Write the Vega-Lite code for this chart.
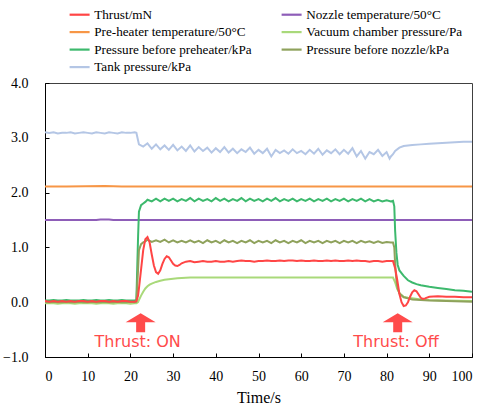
{
  "$schema": "https://vega.github.io/schema/vega-lite/v6.json",
  "width": 427,
  "height": 274,
  "autosize": {"type": "none"},
  "padding": {"left": 45, "top": 83, "right": 10, "bottom": 49},
  "background": "white",
  "config": {
    "font": "Liberation Serif",
    "view": {"stroke": "#404040", "strokeWidth": 1},
    "axis": {
      "grid": false,
      "domainColor": "black",
      "tickColor": "black",
      "tickSize": -4,
      "labelFont": "Liberation Serif",
      "labelFontSize": 14,
      "labelColor": "black",
      "titleFont": "Liberation Serif",
      "titleFontSize": 16,
      "titleFontWeight": "normal",
      "titleColor": "black"
    },
    "legend": {
      "orient": "none",
      "direction": "horizontal",
      "legendX": 33,
      "legendY": -75,
      "columns": 2,
      "columnPadding": 25,
      "rowPadding": 3.5,
      "symbolType": "M-3,0H1",
      "symbolSize": 100,
      "symbolStrokeWidth": 2.2,
      "labelFont": "Liberation Serif",
      "labelFontSize": 13.2,
      "labelOffset": 3,
      "labelColor": "black",
      "labelLimit": 300
    }
  },
  "layer": [
    {
      "data": {
        "values": [
          {"t":0,"T":0.02,"V":-0.02,"G":0.03,"O":0.0,"K":3.10,"N":1.5,"P":2.11},
          {"t":1,"T":0.01,"V":-0.02,"G":0.03,"O":0.0,"K":3.09},
          {"t":2,"T":0.02,"V":-0.02,"G":0.04,"O":0.01,"K":3.10},
          {"t":3,"T":0.01,"V":-0.03,"G":0.03,"O":0.0,"K":3.08},
          {"t":4,"T":0.02,"V":-0.02,"G":0.03,"O":0.0,"K":3.09},
          {"t":5,"T":0.01,"V":-0.02,"G":0.04,"O":0.01,"K":3.09,"P":2.11},
          {"t":6,"T":0.02,"V":-0.02,"G":0.03,"O":0.0,"K":3.10},
          {"t":7,"T":0.01,"V":-0.03,"G":0.03,"O":0.0,"K":3.08},
          {"t":8,"T":0.02,"V":-0.02,"G":0.03,"O":0.01,"K":3.09},
          {"t":9,"T":0.02,"V":-0.02,"G":0.04,"O":0.0,"K":3.10},
          {"t":10,"T":0.01,"V":-0.02,"G":0.03,"O":0.0,"K":3.09,"N":1.5},
          {"t":11,"T":0.02,"V":-0.02,"G":0.03,"O":0.01,"K":3.08},
          {"t":12,"T":0.01,"V":-0.03,"G":0.04,"O":0.0,"K":3.10,"N":1.5},
          {"t":13,"T":0.02,"V":-0.02,"G":0.03,"O":0.0,"K":3.09,"N":1.51},
          {"t":14,"T":0.02,"V":-0.02,"G":0.03,"O":0.01,"K":3.08,"P":2.12},
          {"t":15,"T":0.01,"V":-0.02,"G":0.04,"O":0.0,"K":3.10,"N":1.51},
          {"t":16,"T":0.02,"V":-0.03,"G":0.03,"O":0.0,"K":3.09,"N":1.5},
          {"t":17,"T":0.01,"V":-0.02,"G":0.03,"O":0.01,"K":3.08},
          {"t":18,"T":0.02,"V":-0.02,"G":0.04,"O":0.0,"K":3.10,"P":2.11},
          {"t":19,"T":0.02,"V":-0.02,"G":0.03,"O":0.0,"K":3.09},
          {"t":20,"T":0.01,"V":-0.03,"G":0.03,"O":0.01,"K":3.09},
          {"t":21,"T":0.01,"V":-0.02,"G":0.03,"O":0.0,"K":3.10},
          {"t":21.4,"T":0.02,"V":-0.02,"G":0.04,"O":0.01,"K":3.09},
          {"t":21.8,"T":0.12,"V":0.0,"G":1.2,"O":0.6,"K":2.95},
          {"t":22,"T":0.25,"V":0.04,"G":1.65,"O":0.95,"K":2.88},
          {"t":22.5,"T":0.6,"V":0.12,"G":1.77,"O":1.06},
          {"t":23,"T":0.95,"V":0.19,"G":1.80,"O":1.09,"K":2.84},
          {"t":23.5,"T":1.15,"V":0.25,"G":1.83,"O":1.11},
          {"t":24,"T":1.19,"V":0.29,"G":1.87,"O":1.14,"K":2.90},
          {"t":24.5,"T":1.09,"V":0.32},
          {"t":25,"T":0.87,"V":0.34,"G":1.84,"O":1.10,"K":2.80},
          {"t":25.5,"T":0.67},
          {"t":26,"T":0.55,"V":0.37,"G":1.89,"O":1.13,"K":2.88},
          {"t":26.5,"T":0.52},
          {"t":27,"T":0.58,"V":0.39,"G":1.84,"O":1.10,"K":2.79},
          {"t":27.5,"T":0.70},
          {"t":28,"T":0.79,"V":0.41,"G":1.89,"O":1.14,"K":2.86},
          {"t":28.5,"T":0.84},
          {"t":29,"T":0.82,"V":0.42,"G":1.85,"O":1.09,"K":2.78},
          {"t":29.5,"T":0.76},
          {"t":30,"T":0.70,"V":0.43,"G":1.89,"O":1.13,"K":2.87},
          {"t":30.5,"T":0.67},
          {"t":31,"T":0.66,"V":0.435,"G":1.84,"O":1.09,"K":2.77},
          {"t":31.5,"T":0.68},
          {"t":32,"T":0.71,"V":0.44,"G":1.88,"O":1.12,"K":2.84},
          {"t":33,"T":0.74,"V":0.445,"G":1.85,"O":1.09,"K":2.76},
          {"t":34,"T":0.75,"V":0.45,"G":1.90,"O":1.13,"K":2.86},
          {"t":35,"T":0.73,"G":1.84,"O":1.09,"K":2.75},
          {"t":36,"T":0.74,"G":1.89,"O":1.12,"K":2.83},
          {"t":37,"T":0.75,"G":1.85,"O":1.08,"K":2.76},
          {"t":38,"T":0.74,"G":1.88,"O":1.13,"K":2.82},
          {"t":39,"T":0.74,"G":1.84,"O":1.09,"K":2.73},
          {"t":40,"T":0.75,"V":0.45,"G":1.90,"O":1.12,"K":2.81,"N":1.5,"P":2.11},
          {"t":41,"T":0.74,"G":1.85,"O":1.08,"K":2.74},
          {"t":42,"T":0.74,"G":1.89,"O":1.13,"K":2.83},
          {"t":43,"T":0.75,"G":1.84,"O":1.09,"K":2.73},
          {"t":44,"T":0.74,"G":1.88,"O":1.12,"K":2.80},
          {"t":45,"T":0.75,"G":1.85,"O":1.08,"K":2.72},
          {"t":46,"T":0.76,"G":1.90,"O":1.12,"K":2.79},
          {"t":47,"T":0.75,"G":1.84,"O":1.09,"K":2.74},
          {"t":48,"T":0.75,"G":1.89,"O":1.13,"K":2.82},
          {"t":49,"T":0.74,"G":1.85,"O":1.08,"K":2.71},
          {"t":50,"T":0.75,"V":0.45,"G":1.88,"O":1.12,"K":2.78},
          {"t":51,"T":0.75,"G":1.84,"O":1.09,"K":2.72},
          {"t":52,"T":0.76,"G":1.89,"O":1.12,"K":2.80},
          {"t":53,"T":0.75,"G":1.85,"O":1.08,"K":2.66},
          {"t":54,"T":0.75,"G":1.90,"O":1.13,"K":2.78},
          {"t":55,"T":0.76,"G":1.84,"O":1.09,"K":2.72},
          {"t":56,"T":0.75,"G":1.88,"O":1.12,"K":2.77},
          {"t":57,"T":0.76,"G":1.85,"O":1.08,"K":2.71},
          {"t":58,"T":0.76,"G":1.89,"O":1.12,"K":2.79},
          {"t":59,"T":0.75,"G":1.84,"O":1.09,"K":2.72},
          {"t":60,"T":0.76,"V":0.45,"G":1.88,"O":1.13,"K":2.76,"N":1.5,"P":2.11},
          {"t":61,"T":0.75,"G":1.85,"O":1.08,"K":2.70},
          {"t":62,"T":0.75,"G":1.89,"O":1.12,"K":2.78},
          {"t":63,"T":0.76,"G":1.84,"O":1.09,"K":2.71},
          {"t":64,"T":0.75,"G":1.88,"O":1.12,"K":2.80},
          {"t":65,"T":0.75,"G":1.85,"O":1.08,"K":2.69},
          {"t":66,"T":0.76,"G":1.89,"O":1.12,"K":2.77},
          {"t":67,"T":0.75,"G":1.84,"O":1.09,"K":2.72},
          {"t":68,"T":0.76,"G":1.88,"O":1.12,"K":2.79},
          {"t":69,"T":0.75,"G":1.85,"O":1.08,"K":2.70},
          {"t":70,"T":0.75,"V":0.45,"G":1.89,"O":1.12,"K":2.78},
          {"t":71,"T":0.76,"G":1.84,"O":1.09,"K":2.71},
          {"t":72,"T":0.75,"G":1.88,"O":1.12,"K":2.81},
          {"t":73,"T":0.76,"G":1.85,"O":1.08,"K":2.66},
          {"t":74,"T":0.75,"G":1.89,"O":1.12,"K":2.76},
          {"t":75,"T":0.75,"G":1.84,"O":1.09,"K":2.62},
          {"t":76,"T":0.74,"G":1.88,"O":1.11,"K":2.74},
          {"t":77,"T":0.75,"G":1.84,"O":1.08,"K":2.70},
          {"t":78,"T":0.75,"G":1.87,"O":1.11,"K":2.78},
          {"t":79,"T":0.74,"G":1.84,"O":1.08,"K":2.67},
          {"t":80,"T":0.75,"G":1.86,"O":1.10,"K":2.74},
          {"t":80.7,"K":2.62},
          {"t":81,"T":0.75,"G":1.84,"O":1.09,"K":2.66},
          {"t":81.5,"T":0.75,"V":0.45,"G":1.85,"O":1.09,"K":2.70},
          {"t":81.8,"G":1.75,"O":1.0},
          {"t":82,"T":0.62,"V":0.36,"G":1.3,"O":0.7,"K":2.76},
          {"t":82.3,"G":0.9,"O":0.4},
          {"t":82.5,"T":0.4,"V":0.24},
          {"t":82.6,"G":0.68,"O":0.25},
          {"t":83,"T":0.15,"V":0.17,"G":0.58,"O":0.16,"K":2.82},
          {"t":83.5,"T":0.0,"V":0.13},
          {"t":84,"T":-0.07,"V":0.10,"G":0.48,"O":0.09,"K":2.85},
          {"t":84.5,"T":-0.06},
          {"t":85,"T":0.0,"V":0.08,"G":0.40,"O":0.07,"K":2.86},
          {"t":85.5,"T":0.10},
          {"t":86,"T":0.18,"V":0.07,"G":0.36,"O":0.05,"K":2.87},
          {"t":86.5,"T":0.22},
          {"t":87,"T":0.20,"G":0.33},
          {"t":87.5,"T":0.14},
          {"t":88,"T":0.08,"V":0.05,"G":0.31,"O":0.04,"K":2.88},
          {"t":88.5,"T":0.06},
          {"t":89,"T":0.07},
          {"t":90,"T":0.10,"V":0.04,"G":0.28,"O":0.03,"K":2.89},
          {"t":92,"T":0.11,"G":0.26,"K":2.90},
          {"t":94,"T":0.10,"V":0.03,"G":0.24,"O":0.02,"K":2.91},
          {"t":96,"T":0.10,"G":0.22,"K":2.92},
          {"t":98,"T":0.09,"G":0.21,"K":2.93},
          {"t":100,"T":0.09,"V":0.02,"G":0.19,"O":0.01,"K":2.93,"N":1.5,"P":2.11}
        ]
      },
      "transform": [
        {"fold": ["K", "N", "P", "V", "G", "O", "T"], "as": ["k", "v"]},
        {"filter": "isValid(datum.v)"}
      ],
      "mark": {"type": "line", "strokeWidth": 2, "clip": true},
      "encoding": {
        "x": {
          "field": "t",
          "type": "quantitative",
          "scale": {"domain": [0, 100], "nice": false},
          "axis": {
            "title": "Time/s",
            "values": [0, 10, 20, 30, 40, 50, 60, 70, 80, 90, 100],
            "labelFont": "Liberation Serif",
            "labelPadding": 16,
            "titlePadding": 6
          }
        },
        "y": {
          "field": "v",
          "type": "quantitative",
          "scale": {"domain": [-1, 4], "nice": false},
          "axis": {
            "title": null,
            "values": [-1, -0.5, 0, 0.5, 1, 1.5, 2, 2.5, 3, 3.5, 4],
            "format": ".1f",
            "labelFont": "Liberation Serif",
            "labelPadding": 21
          }
        },
        "color": {
          "field": "k",
          "type": "nominal",
          "scale": {
            "domain": ["T", "N", "P", "V", "G", "O", "K"],
            "range": ["#FF4545", "#8E5DB8", "#F79646", "#A9D97A", "#3DB96D", "#8FA25C", "#B4C6E5"]
          },
          "legend": {
            "title": null,
            "direction": "horizontal",
            "columns": 2,
            "labelFont": "Liberation Serif",
            "labelExpr": "datum.label == 'T' ? 'Thrust/mN' : datum.label == 'N' ? 'Nozzle temperature/50°C' : datum.label == 'P' ? 'Pre-heater temperature/50°C' : datum.label == 'V' ? 'Vacuum chamber pressure/Pa' : datum.label == 'G' ? 'Pressure before preheater/kPa' : datum.label == 'O' ? 'Pressure before nozzle/kPa' : 'Tank pressure/kPa'"
          }
        },
        "order": {"field": "t", "type": "quantitative"}
      }
    },
    {
      "data": {"values": [{"t": 22.4, "y": -0.374}, {"t": 82.6, "y": -0.374}]},
      "mark": {
        "type": "point",
        "shape": "M0,-0.63L1,-0.03L0.3,-0.03L0.3,0.63L-0.3,0.63L-0.3,-0.03L-1,-0.03Z",
        "size": 900,
        "filled": true,
        "opacity": 1,
        "color": "#FF4B4B",
        "strokeWidth": 0
      },
      "encoding": {
        "x": {"field": "t", "type": "quantitative"},
        "y": {"field": "y", "type": "quantitative"}
      }
    },
    {
      "data": {"values": [{"t": 21.7, "y": -0.81, "label": "Thrust: ON"}, {"t": 82.2, "y": -0.81, "label": "Thrust: Off"}]},
      "mark": {
        "type": "text",
        "font": "DejaVu Sans",
        "fontSize": 16,
        "color": "#FF4B4B",
        "baseline": "alphabetic",
        "align": "center"
      },
      "encoding": {
        "x": {"field": "t", "type": "quantitative"},
        "y": {"field": "y", "type": "quantitative"},
        "text": {"field": "label"}
      }
    }
  ]
}
